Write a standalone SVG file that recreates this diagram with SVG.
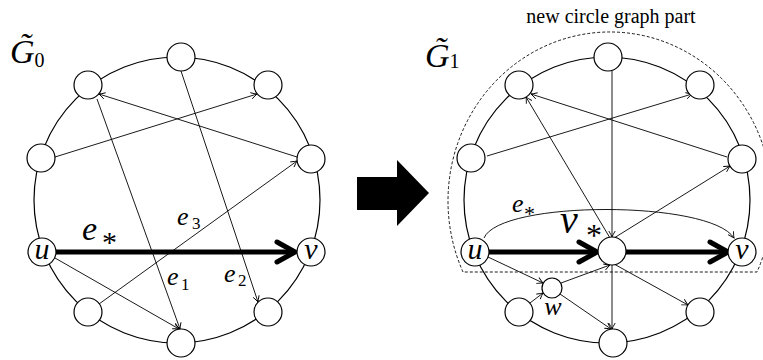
<svg xmlns="http://www.w3.org/2000/svg" width="763" height="360" viewBox="0 0 763 360">
<style>
.ring{fill:none;stroke:#000;stroke-width:1.2}
.nd{fill:#fff;stroke:#000;stroke-width:1.2}
.e{fill:none;stroke:#000;stroke-width:0.9;marker-end:url(#ah)}
.thick{fill:none;stroke:#000;stroke-width:5}
.chev{fill:none;stroke:#000;stroke-width:5;stroke-linecap:round;stroke-linejoin:round}
.m{font-family:'Liberation Serif','DejaVu Serif',serif;font-style:italic;fill:#000}
.r{font-family:'Liberation Serif','DejaVu Serif',serif;fill:#000}
</style>
<defs>
<marker id="ah" markerUnits="userSpaceOnUse" markerWidth="12" markerHeight="12" viewBox="-8 -6 10 12" refX="0" refY="0" orient="auto" overflow="visible">
<path d="M -6 -3.2 Q -2 -0.8 0 0 Q -2 0.8 -6 3.2" fill="none" stroke="#000" stroke-width="0.9"/>
</marker>
</defs>
<rect width="763" height="360" fill="#fff"/>

<!-- Left graph G0 -->
<g id="g0-labels">
<text class="m" x="10" y="63" font-size="34">G&#x303;<tspan class="r" font-style="normal" font-size="20" dy="4">0</tspan></text>
</g>
<circle class="ring" cx="177" cy="200" r="143"/>
<g id="g0-edges">
<line class="e" x1="55" y1="157" x2="257" y2="94"/>
<line class="e" x1="297" y1="157" x2="99" y2="94"/>
<line class="e" x1="97" y1="99" x2="180" y2="329"/>
<line class="e" x1="181" y1="71" x2="258" y2="302"/>
<line class="e" x1="99" y1="304" x2="297" y2="161"/>
<line class="e" x1="55" y1="258" x2="179" y2="329"/>
<line class="thick" x1="56" y1="252" x2="294" y2="252"/>
<polyline class="chev" points="277,242 295,252 277,262"/>
</g>
<g id="g0-n-t"><circle class="nd" cx="181" cy="57" r="14"/></g>
<g id="g0-n-tl"><circle class="nd" cx="88" cy="85" r="14"/></g>
<g id="g0-n-tr"><circle class="nd" cx="268" cy="85" r="14"/></g>
<g id="g0-n-l"><circle class="nd" cx="41" cy="158" r="14"/></g>
<g id="g0-n-r"><circle class="nd" cx="311" cy="159" r="14"/></g>
<g id="g0-n-u"><circle class="nd" cx="42" cy="252" r="14"/><text class="m" x="42" y="259" font-size="30" text-anchor="middle">u</text></g>
<g id="g0-n-v"><circle class="nd" cx="311" cy="252" r="14"/><text class="m" x="311" y="259" font-size="30" text-anchor="middle">v</text></g>
<g id="g0-n-bl"><circle class="nd" cx="88" cy="312" r="14"/></g>
<g id="g0-n-b"><circle class="nd" cx="181" cy="343" r="14"/></g>
<g id="g0-n-br"><circle class="nd" cx="268" cy="312" r="14"/></g>
<g id="g0-edge-labels">
<text class="m" x="82" y="240" font-size="34">e</text><text class="r" x="102" y="252" font-size="30">*</text>
<text class="m" x="177" y="225" font-size="26">e</text><text class="r" x="192" y="229" font-size="17">3</text>
<text class="m" x="167" y="285" font-size="26">e</text><text class="r" x="181" y="290" font-size="17">1</text>
<text class="m" x="224" y="282" font-size="26">e</text><text class="r" x="238" y="286" font-size="17">2</text>
</g>

<!-- Block arrow -->
<polygon points="357,177 397,177 397,160 429,193 397,226 397,210 357,210" fill="#000"/>

<!-- Right graph G1 -->
<g id="g1-labels">
<text class="m" x="425" y="67" font-size="34">G&#x303;<tspan class="r" font-style="normal" font-size="20" dy="1">1</tspan></text>
<text class="r" x="611" y="23" font-size="20" text-anchor="middle">new circle graph part</text>
</g>
<path d="M 463,272 A 162 169 0 1 1 757,272 Z" fill="none" stroke="#000" stroke-width="0.9" stroke-dasharray="3,2"/>
<circle class="ring" cx="607" cy="200" r="143"/>
<g id="g1-edges">
<line class="e" x1="487" y1="156" x2="692" y2="94"/>
<line class="e" x1="727" y1="157" x2="531" y2="94"/>
<line class="e" x1="612" y1="71" x2="612" y2="237"/>
<line class="e" x1="610" y1="238" x2="526" y2="97"/>
<line class="e" x1="614" y1="238" x2="730" y2="166"/>
<path class="e" d="M 484,238 C 500,200 710,200 734,238"/>
<line class="thick" x1="489" y1="252" x2="596" y2="252"/>
<polyline class="chev" points="579,242 597,252 579,262"/>
<line class="thick" x1="626" y1="252" x2="726" y2="252"/>
<polyline class="chev" points="710,242 728,252 710,262"/>
<line class="e" x1="488" y1="257" x2="543" y2="283"/>
<line class="e" x1="530" y1="303" x2="543" y2="293"/>
<line class="e" x1="561" y1="283" x2="610" y2="265"/>
<line class="e" x1="560" y1="294" x2="611" y2="329"/>
<line class="e" x1="612" y1="265" x2="612" y2="329"/>
<line class="e" x1="614" y1="264" x2="688" y2="305"/>
</g>
<g id="g1-n-t"><circle class="nd" cx="608" cy="57" r="14"/></g>
<g id="g1-n-tl"><circle class="nd" cx="519" cy="85" r="14"/></g>
<g id="g1-n-tr"><circle class="nd" cx="700" cy="85" r="14"/></g>
<g id="g1-n-l"><circle class="nd" cx="471" cy="158" r="14"/></g>
<g id="g1-n-r"><circle class="nd" cx="742" cy="159" r="14"/></g>
<g id="g1-n-u"><circle class="nd" cx="475" cy="252" r="14"/><text class="m" x="475" y="259" font-size="30" text-anchor="middle">u</text></g>
<g id="g1-n-v"><circle class="nd" cx="742" cy="252" r="14"/><text class="m" x="742" y="259" font-size="30" text-anchor="middle">v</text></g>
<g id="g1-n-vstar"><circle class="nd" cx="612" cy="251" r="14"/></g>
<g id="g1-n-w"><circle class="nd" cx="552" cy="288" r="10"/></g>
<g id="g1-n-bl"><circle class="nd" cx="519" cy="312" r="14"/></g>
<g id="g1-n-b"><circle class="nd" cx="613" cy="343" r="14"/></g>
<g id="g1-n-br"><circle class="nd" cx="700" cy="312" r="14"/></g>
<g id="g1-texts">
<text class="m" x="512" y="212" font-size="26">e</text><text class="r" x="524" y="221" font-size="22">*</text>
<text class="m" x="560" y="233" font-size="40">v</text><text class="r" x="586" y="246" font-size="32">*</text>
<text class="m" x="553" y="315" font-size="26" text-anchor="middle">w</text>
</g>
</svg>
